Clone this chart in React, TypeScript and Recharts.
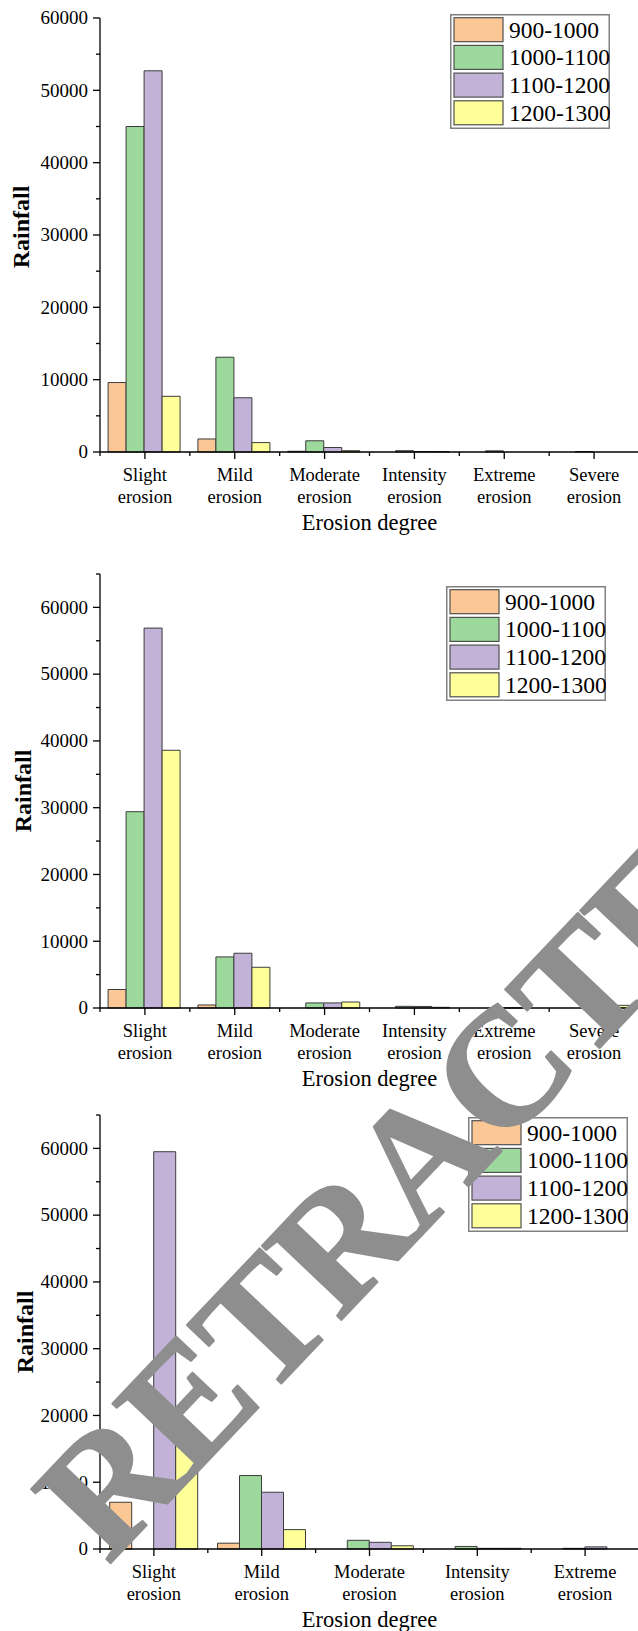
import React from 'react';
import { BarChart, Bar, XAxis, YAxis, Legend } from 'recharts';

const FONT = 'Liberation Serif, Times New Roman, serif';
const TEXT_STYLE = { fontFamily: FONT };

// rainfall bands (series) and their fills
const SERIES = ['900-1000', '1000-1100', '1100-1200', '1200-1300'];
const COLORS = ['#FBC895', '#9DD89D', '#C2B2D8', '#FFFF99'];

// erosion classes
const CATEGORIES_6 = [
  'Slight erosion',
  'Mild erosion',
  'Moderate erosion',
  'Intensity erosion',
  'Extreme erosion',
  'Severe erosion',
];
const CATEGORIES_5 = [
  'Slight erosion',
  'Mild erosion',
  'Moderate erosion',
  'Intensity erosion',
  'Extreme erosion',
];

// y-axis tick values (major every 10000, minor every 5000)
const TICKS_60K = [0, 5000, 10000, 15000, 20000, 25000, 30000, 35000, 40000, 45000, 50000, 55000, 60000];
const TICKS_65K = [0, 5000, 10000, 15000, 20000, 25000, 30000, 35000, 40000, 45000, 50000, 55000, 60000, 65000];

// panel 1
const p1_900 = [9600, 1800, 100, 0, 0, 0];
const p1_1000 = [45000, 13100, 1550, 180, 160, 70];
const p1_1100 = [52700, 7500, 620, 70, 0, 0];
const p1_1200 = [7700, 1300, 180, 60, 0, 0];

// panel 2
const p2_900 = [2770, 450, 0, 0, 0, 0];
const p2_1000 = [29400, 7650, 760, 250, 0, 0];
const p2_1100 = [56900, 8200, 760, 230, 30, 250];
const p2_1200 = [38600, 6100, 900, 100, 0, 400];

// panel 3
const p3_900 = [7000, 870, 0, 0, 0];
const p3_1000 = [0, 11000, 1300, 380, 100];
const p3_1100 = [59500, 8500, 1000, 100, 320];
const p3_1200 = [17000, 2900, 480, 100, 0];

const WATERMARK = 'RETRACTED';

type Row = { category: string; s0: number; s1: number; s2: number; s3: number };

function buildRows(categories: string[], a: number[], b: number[], c: number[], d: number[]): Row[] {
  return categories.map((category, i) => ({ category, s0: a[i], s1: b[i], s2: c[i], s3: d[i] }));
}

const CHART_W = 640;
const PLOT_LEFT = 100;
const PLOT_RIGHT_MARGIN = 1;
const X_AXIS_H = 88;

const YTick = (props: any) => {
  const { x, y, payload } = props;
  const major = payload.value % 10000 === 0;
  return (
    <g>
      <line x1={x} x2={x - (major ? 7 : 4)} y1={y} y2={y} stroke="#000" strokeWidth={1.3} />
      {major && (
        <text x={x - 12} y={y} dy={6.3} textAnchor="end" fontSize={19} style={TEXT_STYLE} fill="#000">
          {payload.value}
        </text>
      )}
    </g>
  );
};

const makeXTick = (halfBand: number) => (props: any) => {
  const { x, y, payload } = props;
  const words = String(payload.value).split(' ');
  return (
    <g>
      <line x1={x} x2={x} y1={y} y2={y + 7} stroke="#000" strokeWidth={1.3} />
      <line x1={x - halfBand} x2={x - halfBand} y1={y} y2={y + 4} stroke="#000" strokeWidth={1.3} />
      <text x={x} y={y + 29} textAnchor="middle" fontSize={18.5} style={TEXT_STYLE} fill="#000">
        {words[0]}
      </text>
      <text x={x} y={y + 51} textAnchor="middle" fontSize={18.5} style={TEXT_STYLE} fill="#000">
        {words[1]}
      </text>
    </g>
  );
};

const LegendBox = (props: any) => {
  const payload: any[] = props.payload || [];
  const entries = SERIES.map((name, i) => {
    const found = payload.find((e) => e.value === name);
    return { value: name, color: found ? found.color : COLORS[i] };
  });
  const W = 160;
  const H = 115;
  return (
    <svg width={W} height={H} style={{ display: 'block' }}>
      <rect x={0.75} y={0.75} width={W - 1.5} height={H - 1.5} fill="#fff" stroke="#808080" strokeWidth={1.5} />
      {entries.map((e, i) => {
        const top = 3.7 + i * 27.7;
        return (
          <g key={e.value}>
            <rect x={4} y={top} width={49} height={24} fill={e.color} stroke="#505050" strokeWidth={1.2} />
            <text x={59} y={top + 20} fontSize={23.5} style={TEXT_STYLE} fill="#000">
              {e.value}
            </text>
          </g>
        );
      })}
    </svg>
  );
};

type PanelProps = {
  top: number;
  height: number;
  marginTop: number;
  categories: string[];
  rows: Row[];
  yMax: number;
  ticks: number[];
  legendLeft: number;
  legendTop: number;
  rainfallX: number;
  rainfallShift: number;
};

const Panel = (p: PanelProps) => {
  const plotW = CHART_W - PLOT_LEFT - PLOT_RIGHT_MARGIN;
  const halfBand = plotW / p.categories.length / 2;
  return (
    <div style={{ position: 'absolute', left: 0, top: p.top, width: CHART_W, height: p.height }}>
      <BarChart
        width={CHART_W}
        height={p.height}
        data={p.rows}
        margin={{ top: p.marginTop, right: PLOT_RIGHT_MARGIN, bottom: 0, left: 0 }}
        barCategoryGap="9%"
        barGap={0}
      >
        <XAxis
          dataKey="category"
          type="category"
          height={X_AXIS_H}
          interval={0}
          tickSize={0}
          tickMargin={0}
          tickLine={false}
          axisLine={{ stroke: '#000', strokeWidth: 1.3 }}
          tick={makeXTick(halfBand)}
          label={{
            content: (lp: any) => {
              const vb = lp.viewBox || {};
              return (
                <text
                  x={vb.x + vb.width / 2}
                  y={vb.y + 78}
                  textAnchor="middle"
                  fontSize={22.5}
                  style={TEXT_STYLE}
                  fill="#000"
                >
                  Erosion degree
                </text>
              );
            },
          }}
        />
        <YAxis
          type="number"
          domain={[0, p.yMax]}
          ticks={p.ticks}
          interval={0}
          width={PLOT_LEFT}
          tickSize={0}
          tickMargin={0}
          tickLine={false}
          axisLine={{ stroke: '#000', strokeWidth: 1.3 }}
          tick={<YTick />}
          label={{
            content: (lp: any) => {
              const vb = lp.viewBox || {};
              const cy = vb.y + vb.height / 2 + p.rainfallShift;
              return (
                <text
                  x={p.rainfallX}
                  y={cy}
                  transform={`rotate(-90 ${p.rainfallX} ${cy})`}
                  textAnchor="middle"
                  fontSize={24}
                  fontWeight="bold"
                  style={TEXT_STYLE}
                  fill="#000"
                >
                  Rainfall
                </text>
              );
            },
          }}
        />
        <Legend
          layout="vertical"
          align="center"
          verticalAlign="middle"
          content={<LegendBox />}
          wrapperStyle={{ left: p.legendLeft, top: p.legendTop, width: 160, height: 115 }}
        />
        {SERIES.map((name, i) => (
          <Bar
            key={name}
            dataKey={`s${i}`}
            name={name}
            fill={COLORS[i]}
            stroke="#3c3c3c"
            strokeWidth={1}
            isAnimationActive={false}
          />
        ))}
      </BarChart>
    </div>
  );
};

const Watermark = () => (
  <svg
    width={638}
    height={1631}
    style={{ position: 'absolute', left: 0, top: 0, pointerEvents: 'none', zIndex: 10 }}
  >
    <text
      x={108}
      y={1566}
      transform="rotate(-46.5 108 1566)"
      fontSize={166}
      fontWeight="bold"
      letterSpacing={-2}
      style={TEXT_STYLE}
      fill="#8e8e8e"
      stroke="#8e8e8e"
      strokeWidth={2}
      strokeLinejoin="round"
    >
      {WATERMARK}
    </text>
  </svg>
);

export default function App() {
  const rows1 = buildRows(CATEGORIES_6, p1_900, p1_1000, p1_1100, p1_1200);
  const rows2 = buildRows(CATEGORIES_6, p2_900, p2_1000, p2_1100, p2_1200);
  const rows3 = buildRows(CATEGORIES_5, p3_900, p3_1000, p3_1100, p3_1200);
  return (
    <div
      style={{
        position: 'absolute',
        left: 0,
        top: 0,
        width: 638,
        height: 1631,
        overflow: 'hidden',
        background: '#fff',
        fontFamily: FONT,
      }}
    >
      <Panel
        top={0}
        height={540}
        marginTop={18}
        categories={CATEGORIES_6}
        rows={rows1}
        yMax={60000}
        ticks={TICKS_60K}
        legendLeft={449.5}
        legendTop={14}
        rainfallX={29}
        rainfallShift={-8}
      />
      <Panel
        top={560}
        height={536}
        marginTop={14}
        categories={CATEGORIES_6}
        rows={rows2}
        yMax={65000}
        ticks={TICKS_65K}
        legendLeft={446}
        legendTop={25.5}
        rainfallX={31}
        rainfallShift={0}
      />
      <Panel
        top={1100}
        height={537}
        marginTop={15}
        categories={CATEGORIES_5}
        rows={rows3}
        yMax={65000}
        ticks={TICKS_65K}
        legendLeft={468}
        legendTop={16.5}
        rainfallX={33}
        rainfallShift={0}
      />
      <Watermark />
    </div>
  );
}
